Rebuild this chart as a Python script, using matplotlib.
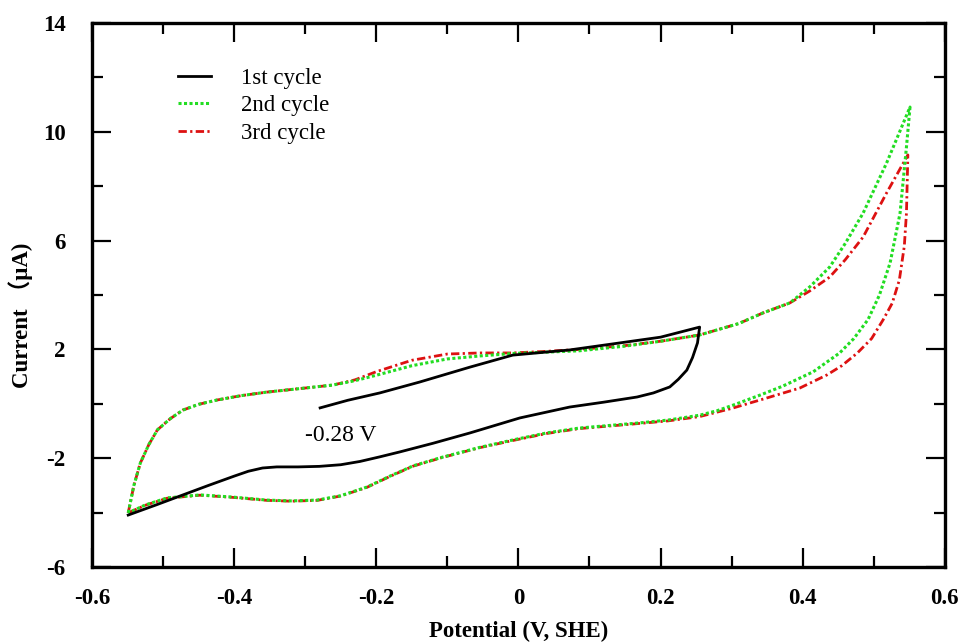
import matplotlib.pyplot as plt
from matplotlib.ticker import MultipleLocator

plt.rcParams['font.family'] = ['Liberation Serif', 'Noto Sans CJK SC']

# 1st cycle: from -0.28 V up to 0.26 V, then back down to -0.55 V
cyc1_v = [-0.279, -0.24, -0.195, -0.139, -0.068, -0.008, 0.072, 0.143, 0.20, 0.255,
          0.252, 0.245, 0.237, 0.225, 0.213, 0.19, 0.167, 0.12, 0.072, 0.002,
          -0.068, -0.12, -0.167, -0.195, -0.223, -0.25, -0.28, -0.31, -0.34,
          -0.36, -0.38, -0.40, -0.436, -0.472, -0.51, -0.549]
cyc1_i = [-0.15, 0.13, 0.40, 0.80, 1.35, 1.79, 1.98, 2.24, 2.45, 2.82,
          2.24, 1.70, 1.24, 0.90, 0.62, 0.40, 0.25, 0.06, -0.12, -0.52,
          -1.07, -1.45, -1.77, -1.95, -2.12, -2.24, -2.30, -2.32, -2.32,
          -2.36, -2.48, -2.66, -3.00, -3.35, -3.72, -4.09]

# 2nd cycle: closed loop starting at the negative vertex
cyc2_v = [-0.549, -0.541, -0.532, -0.52, -0.508, -0.49, -0.472, -0.45, -0.424, -0.39,
          -0.354, -0.30, -0.261, -0.23, -0.20, -0.15, -0.10, -0.054, -0.008, 0.04,
          0.086, 0.15, 0.20, 0.255, 0.31, 0.344, 0.382, 0.41, 0.438, 0.46,
          0.485, 0.518, 0.551,
          0.546, 0.537, 0.523, 0.508, 0.492, 0.472, 0.452, 0.415, 0.372, 0.34,
          0.302, 0.28, 0.255, 0.21, 0.167, 0.086, 0.04, -0.008, -0.054, -0.108,
          -0.148, -0.18, -0.213, -0.25, -0.283, -0.32, -0.354, -0.402, -0.448,
          -0.494, -0.525, -0.549]
cyc2_i = [-4.01, -3.00, -2.18, -1.50, -0.96, -0.55, -0.23, -0.02, 0.14, 0.30,
          0.43, 0.58, 0.69, 0.85, 1.05, 1.40, 1.65, 1.76, 1.85, 1.90,
          1.95, 2.12, 2.30, 2.53, 2.95, 3.34, 3.71, 4.30, 5.03, 5.90,
          7.01, 8.85, 10.91,
          9.44, 7.01, 5.18, 4.00, 3.10, 2.40, 1.87, 1.18, 0.65, 0.32,
          -0.05, -0.25, -0.42, -0.60, -0.71, -0.89, -1.07, -1.33, -1.60, -1.97,
          -2.28, -2.65, -3.06, -3.38, -3.54, -3.57, -3.54, -3.43, -3.35,
          -3.46, -3.72, -4.01]

# 3rd cycle
cyc3_v = [-0.549, -0.541, -0.532, -0.52, -0.508, -0.49, -0.472, -0.45, -0.424, -0.39,
          -0.354, -0.30, -0.261, -0.23, -0.20, -0.15, -0.10, -0.054, -0.008, 0.04,
          0.086, 0.15, 0.20, 0.255, 0.31, 0.344, 0.382, 0.41, 0.438, 0.46,
          0.485, 0.518, 0.548,
          0.546, 0.543, 0.536, 0.526, 0.513, 0.497, 0.477, 0.455, 0.434, 0.396,
          0.349, 0.30, 0.255, 0.21, 0.167, 0.086, 0.04, -0.008, -0.054, -0.108,
          -0.148, -0.18, -0.213, -0.25, -0.283, -0.32, -0.354, -0.402, -0.448,
          -0.494, -0.525, -0.549]
cyc3_i = [-4.01, -3.00, -2.18, -1.50, -0.96, -0.55, -0.23, -0.02, 0.14, 0.30,
          0.43, 0.58, 0.69, 0.88, 1.18, 1.60, 1.83, 1.87, 1.87, 1.93,
          2.00, 2.14, 2.30, 2.53, 2.95, 3.34, 3.71, 4.15, 4.66, 5.30,
          6.13, 7.75, 9.15,
          7.01, 5.80, 4.55, 3.70, 3.08, 2.40, 1.87, 1.40, 1.06, 0.58,
          0.21, -0.17, -0.47, -0.63, -0.73, -0.91, -1.09, -1.35, -1.61, -1.98,
          -2.29, -2.66, -3.07, -3.39, -3.55, -3.58, -3.55, -3.44, -3.36,
          -3.47, -3.73, -4.01]

labels = ['1st cycle', '2nd cycle', '3rd cycle']

fig = plt.figure(figsize=(9.6, 6.43), dpi=100)
ax = fig.add_axes([0.0958, 0.1182, 0.8884, 0.846])

l1, = ax.plot(cyc1_v, cyc1_i, color='black', lw=2, zorder=3)
l3, = ax.plot(cyc3_v, cyc3_i, color='#dd1111', lw=2,
              linestyle=(0, (3, 1.2, 0.8, 1.2)), zorder=2)
l2, = ax.plot(cyc2_v, cyc2_i, color='#22dd22', lw=2.2,
              linestyle=(0, (1, 0.8)), zorder=2.5)

ax.text(-0.300, -1.15, '-0.28 V', fontsize=17, ha='left', va='center')

ax.set_xlim(-0.6, 0.6)
ax.set_ylim(-6, 14)
ax.xaxis.set_minor_locator(MultipleLocator(0.1))
ax.yaxis.set_minor_locator(MultipleLocator(2))
ax.set_xticks([-0.6, -0.4, -0.2, 0, 0.2, 0.4, 0.6])
ax.set_xticklabels(['-0.6', '-0.4', '-0.2', '0', '0.2', '0.4', '0.6'])
ax.set_yticks([-6, -2, 2, 6, 10, 14])
ax.set_yticklabels(['-6', '-2', '2', '6', '10', '14'])

ax.tick_params(which='both', direction='in', top=True, right=True, width=1.6)
ax.tick_params(which='major', length=14)
ax.tick_params(which='minor', length=8)
ax.tick_params(axis='x', which='major', pad=15)
ax.tick_params(axis='y', which='major', pad=19)
for lab in ax.get_xticklabels() + ax.get_yticklabels():
    lab.set_fontweight('bold')
    lab.set_fontsize(16.5)
for s in ax.spines.values():
    s.set_linewidth(2.4)

ax.set_xlabel('Potential (V, SHE)', fontsize=16.5, fontweight='bold', labelpad=9)
ax.set_ylabel('Current （μA)', fontsize=16.5, fontweight='bold')
ax.yaxis.set_label_coords(-0.069, 0.463)

ax.legend([l1, l2, l3], labels, loc='upper left', frameon=False, fontsize=16.5,
          bbox_to_anchor=(0.185, 0.895), bbox_transform=fig.transFigure,
          borderpad=0, borderaxespad=0, handlelength=1.45, handletextpad=1.3,
          labelspacing=0.3)

plt.savefig('out.png', dpi=100)
